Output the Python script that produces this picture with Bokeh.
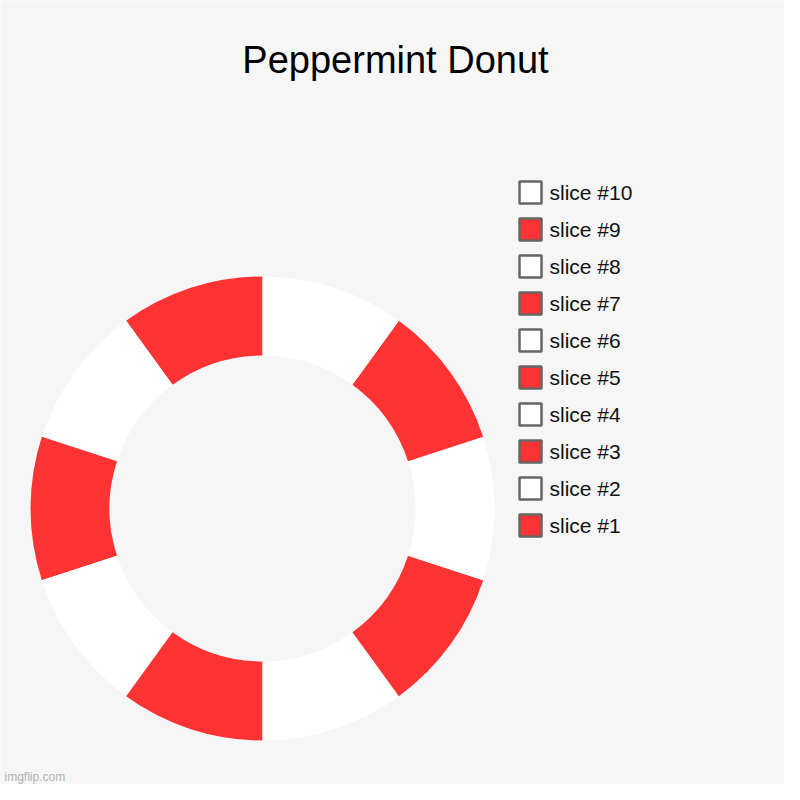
import math
from bokeh.plotting import figure
from bokeh.models import Range1d, ColumnDataSource
from bokeh.core.properties import value
from bokeh.embed import file_html
from bokeh.resources import INLINE

title = "Peppermint Donut"
labels = ["slice #1", "slice #2", "slice #3", "slice #4", "slice #5",
          "slice #6", "slice #7", "slice #8", "slice #9", "slice #10"]
values = [1, 1, 1, 1, 1, 1, 1, 1, 1, 1]
colors = ["#ff3333", "#ffffff", "#ff3333", "#ffffff", "#ff3333",
          "#ffffff", "#ff3333", "#ffffff", "#ff3333", "#ffffff"]

BG = "#f6f6f6"
W = 784
H = 784  # data y = H - pixel y

p = figure(width=W, height=H, output_backend="svg", toolbar_location=None,
           x_range=Range1d(0, W), y_range=Range1d(0, H), min_border=0)
p.axis.visible = False
p.grid.visible = False
p.outline_line_color = None
p.background_fill_color = BG
p.border_fill_color = BG

# donut
cx, cy = 262, H - 508
r_out, r_in = 232, 153
total = sum(values)
starts, ends = [], []
acc = 0
for v in values:
    starts.append(math.pi / 2 + 2 * math.pi * acc / total)
    acc += v
    ends.append(math.pi / 2 + 2 * math.pi * acc / total)
src = ColumnDataSource(dict(start=starts, end=ends, color=colors))
p.annular_wedge(x=cx, y=cy, inner_radius=r_in, outer_radius=r_out,
                start_angle="start", end_angle="end", direction="anticlock",
                fill_color="color", line_color=None, source=src)

# legend (slice #1 at bottom)
n = len(labels)
ly = [H - (525 - i * 37) for i in range(n)]
lsrc = ColumnDataSource(dict(y=ly, color=colors, label=labels))
p.rect(x=530, y="y", width=22, height=22, fill_color="color",
       line_color="#666666", line_width=2.5, source=lsrc)
p.text(x=549, y="y", text="label", text_font=value("Liberation Sans"),
       text_font_size="21px", text_baseline="middle", text_align="left",
       text_color="#111111", source=lsrc)

# title
p.text(x=[395], y=[H - 59], text=[title], text_font=value("Liberation Sans"),
       text_font_size="38px", text_baseline="alphabetic", text_align="center",
       text_color="#000000")

# watermark
p.text(x=[4], y=[H - 776], text=["imgflip.com"], text_font=value("Liberation Sans"),
       text_font_size="12px", text_baseline="alphabetic", text_align="left",
       text_color="#b0b0b0")

open("out.html", "w").write(file_html(p, INLINE))
